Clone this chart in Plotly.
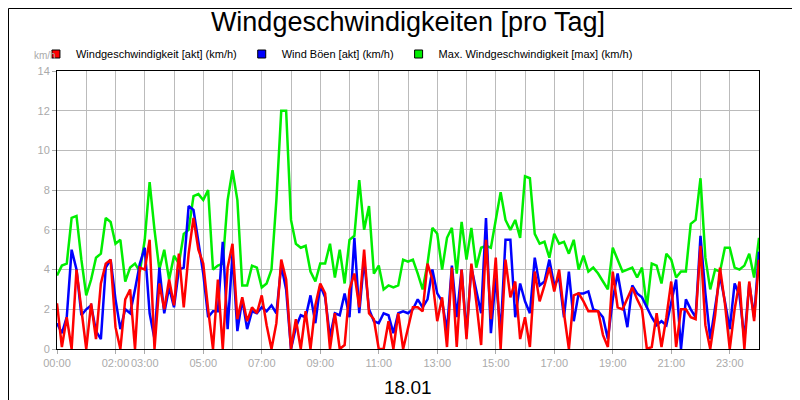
import plotly.graph_objects as go

green = [3.7,4.2,4.3,6.6,6.7,4.5,2.7,3.5,4.6,4.8,6.6,6.4,5.3,5.5,3.4,4.1,4.3,3.9,5.5,8.4,6.0,4.0,5.0,3.5,4.7,4.3,5.8,6.0,7.7,7.8,7.5,8.0,4.0,4.2,4.3,7.5,
         9.0,7.5,3.2,3.2,4.2,4.1,3.1,3.3,4.0,7.5,12.0,12.0,6.5,5.3,5.1,5.2,3.9,3.4,4.3,4.3,5.3,3.6,5.0,3.3,5.5,5.7,8.5,6.0,7.2,3.8,4.2,3.0,3.2,3.1,3.2,4.5,
         4.4,4.5,3.8,3.0,4.3,6.1,5.8,4.0,5.6,6.1,3.8,6.4,4.5,6.1,4.1,5.1,5.2,5.1,6.5,7.9,6.5,6.0,6.5,5.6,8.7,8.6,5.8,5.3,5.4,4.6,5.8,5.3,5.4,4.8,5.5,4.0,
         4.7,3.9,4.1,3.8,3.4,3.0,5.1,4.5,3.9,4.0,4.1,3.6,4.1,2.1,4.3,4.2,3.3,4.8,4.5,3.6,3.9,3.9,6.3,6.5,8.6,4.6,3.0,4.0,3.9,5.1,5.1,4.1,4.0,4.2,4.8,3.6,5.6]
blue = [1.3,0.8,1.6,5.0,4.0,1.7,2.0,2.2,0.9,0.5,4.1,4.5,2.5,1.0,2.0,1.8,3.0,4.3,5.1,1.8,0.5,4.1,1.8,3.1,2.1,4.0,4.1,7.2,7.0,5.3,3.8,1.6,1.9,1.9,5.4,1.0,
        4.8,0.9,2.5,1.0,1.9,1.8,2.1,1.9,2.2,1.8,4.2,3.0,0.0,1.1,1.7,1.6,2.7,1.3,3.2,2.6,0.6,1.8,1.7,2.8,1.6,5.6,1.8,4.5,2.0,1.4,1.3,1.8,1.7,0.8,1.8,1.9,
        1.8,2.0,2.5,2.1,2.5,4.0,2.8,2.4,0.9,4.2,1.6,4.0,0.8,4.1,2.9,1.8,6.6,0.8,3.6,0.8,5.5,5.5,1.6,3.3,2.4,1.8,4.6,3.2,3.4,4.5,3.2,3.6,1.6,3.9,1.4,2.8,
        2.8,2.9,2.0,1.9,1.6,0.5,2.5,3.8,2.4,1.1,3.2,2.8,2.6,2.1,1.6,1.2,1.4,1.2,2.4,3.5,0.0,2.5,2.0,1.6,5.7,2.8,0.5,2.2,3.7,2.4,1.0,3.3,2.7,0.5,3.3,1.6,4.9,2.5]
red = [2.3,0.1,1.6,0.0,4.0,2.0,0.0,2.3,0.5,3.3,4.3,4.5,1.1,0.0,2.5,3.0,0.0,4.1,4.0,5.5,0.0,3.3,2.0,3.5,2.2,4.8,2.1,4.8,6.6,5.0,4.3,2.0,0.0,3.5,0.0,4.1,
       5.3,1.5,2.6,1.4,2.1,1.8,2.7,1.2,0.0,1.3,4.5,3.5,0.0,1.5,0.0,1.9,0.0,2.2,3.3,2.8,0.0,1.8,0.0,0.2,3.0,3.8,2.1,5.0,1.8,1.5,0.0,0.0,1.4,0.0,1.8,0.0,
       1.1,2.1,2.1,1.9,4.3,3.5,1.4,2.6,0.1,4.1,0.1,4.0,0.5,4.3,2.4,0.2,5.5,1.5,4.6,0.0,4.5,2.6,3.4,0.5,1.6,0.1,3.9,2.4,3.2,4.1,2.9,4.0,1.8,0.0,2.7,2.8,
       2.4,1.9,1.9,1.9,0.7,0.1,3.9,2.1,2.0,2.6,3.1,2.5,2.0,0.0,0.1,1.8,0.1,1.6,3.4,0.1,2.0,2.0,1.6,1.5,5.2,1.2,0.0,1.7,4.1,2.3,0.0,2.0,3.4,0.0,3.4,1.4,4.5]
hours = [i / 6 for i in range(len(green))]
tick_hours = [0, 2, 3, 5, 7, 9, 11, 13, 15, 17, 19, 21, 23]
tick_labels = ["00:00", "02:00", "03:00", "05:00", "07:00", "09:00", "11:00", "13:00", "15:00", "17:00", "19:00", "21:00", "23:00"]
names = ["Windgeschwindigkeit [akt] (km/h)", "Wind Böen [akt] (km/h)", "Max. Windgeschwindigkeit [max] (km/h)"]
colors = ["#ff0000", "#0000ff", "#00ee00"]

fig = go.Figure()
for vals, c in [(green, colors[2]), (blue, colors[1]), (red, colors[0])]:
    fig.add_trace(go.Scatter(x=hours, y=vals, mode="lines", line=dict(color=c, width=2.5), showlegend=False))
for n, c in zip(names, colors):
    fig.add_trace(go.Scatter(x=[None], y=[None], mode="markers", name=n,
                             marker=dict(symbol="square", size=8, color=c, line=dict(color="black", width=1))))

W, H = 800, 400
l, r, t, b = 49, 49, 63, 59
pw, ph = W - l - r, H - t - b
fig.update_layout(
    width=W, height=H, margin=dict(l=l, r=r, t=t, b=b, autoexpand=False),
    paper_bgcolor="white", plot_bgcolor="white",
    font=dict(family="Liberation Sans, Arial", color="black"),
    title=dict(text="Windgeschwindigkeiten [pro Tag]", x=0.5, xanchor="center", y=0.99, yanchor="top",
               font=dict(size=27, color="black")),
    legend=dict(orientation="h", x=-0.03, xanchor="left", y=1 + 17 / ph, yanchor="middle",
                font=dict(size=11), bgcolor="rgba(0,0,0,0)", tracegroupgap=0),
    xaxis=dict(range=[0, 24], tickvals=tick_hours, ticktext=tick_labels, showgrid=False, tickangle=0,
               automargin=False,
               ticks="outside", ticklen=4, tickcolor="#aaaaaa", tickfont=dict(size=11, color="#aaaaaa"),
               minor=dict(dtick=1, showgrid=True, gridcolor="#bbbbbb", gridwidth=1),
               showline=True, linecolor="black", linewidth=1, mirror=True, zeroline=False),
    yaxis=dict(range=[0, 14], dtick=2, showgrid=True, gridcolor="#bbbbbb", ticks="outside", ticklen=4,
               automargin=False,
               tickcolor="#aaaaaa", tickfont=dict(size=11, color="#aaaaaa"),
               showline=True, linecolor="black", linewidth=1, mirror=True, zeroline=False),
    annotations=[
        dict(text="km/h", xref="paper", yref="paper", x=-12 / pw, y=1 + 15 / ph, showarrow=False,
             xanchor="center", yanchor="middle", font=dict(size=10, color="#aaaaaa")),
        dict(text="18.01", xref="paper", yref="paper", x=0.5, y=-38 / ph, showarrow=False,
             xanchor="center", yanchor="middle", font=dict(size=19, color="black")),
    ],
    shapes=[dict(type="rect", xref="paper", yref="paper",
                 x0=(-l + 0.5) / pw, x1=(pw + r - 0.5) / pw, y0=(-b + 0.5) / ph, y1=(ph + t - 0.5) / ph,
                 line=dict(color="black", width=1))],
)
fig.write_html("out.html")
